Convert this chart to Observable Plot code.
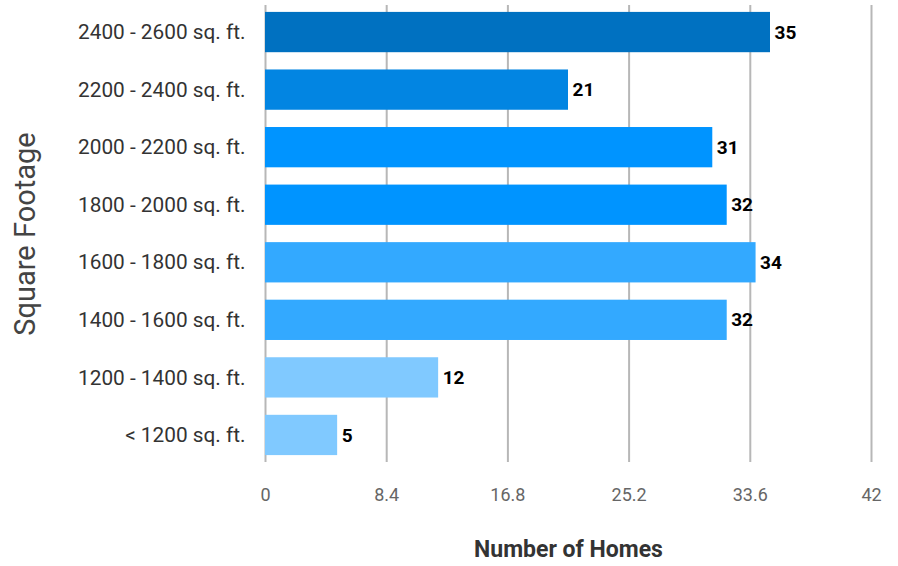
<!DOCTYPE html>
<html>
<head>
<meta charset="utf-8">
<script src="https://cdn.jsdelivr.net/npm/d3@7"></script>
<script src="https://cdn.jsdelivr.net/npm/@observablehq/plot@0.6"></script>
<style>
  html, body { margin: 0; padding: 0; background: #fff; }
  #chart svg { font-family: Roboto, "Noto Sans", sans-serif; display: block; }
</style>
</head>
<body>
<div id="chart"></div>
<script>
const categories = [
  "2400 - 2600 sq. ft.",
  "2200 - 2400 sq. ft.",
  "2000 - 2200 sq. ft.",
  "1800 - 2000 sq. ft.",
  "1600 - 1800 sq. ft.",
  "1400 - 1600 sq. ft.",
  "1200 - 1400 sq. ft.",
  "< 1200 sq. ft."
];
const homes = [35, 21, 31, 32, 34, 32, 12, 5];
const xTicks = [0, 8.4, 16.8, 25.2, 33.6, 42];
const barColors = ["#0071c1", "#0285e2", "#0094ff", "#0094ff", "#33a9ff", "#33a9ff", "#80c9ff", "#80c9ff"];

const data = categories.map((c, i) => ({category: c, value: homes[i], color: barColors[i]}));

const chart = Plot.plot({
  width: 898,
  height: 566,
  marginLeft: 265,
  marginRight: 27,
  marginTop: 5,
  marginBottom: 104,
  style: {fontFamily: "Roboto, 'Noto Sans', sans-serif", background: "#fff"},
  x: {domain: [0, 42]},
  y: {domain: categories, paddingInner: 0.3, paddingOuter: 0.12, round: false},
  marks: [
    Plot.gridX(xTicks, {stroke: "#b7b7b7", strokeOpacity: 1, strokeWidth: 2}),
    Plot.barX(data, {x: "value", y: "category", fill: "color"}),
    Plot.text(data, {x: "value", y: "category", text: d => String(d.value), textAnchor: "start", dx: 4, fontSize: 19, fontWeight: "bold", fill: "#000"}),
    Plot.axisX(xTicks, {tickSize: 0, tickPadding: 26, fontSize: 18, color: "#666", tickFormat: d => String(d), label: null}),
    Plot.axisY({tickSize: 0, tickPadding: 20, fontSize: 20.8, color: "#333", label: null}),
    Plot.text(["Number of Homes"], {frameAnchor: "bottom", dy: 94, fontSize: 23, fontWeight: "bold", fill: "#333"}),
    Plot.text(["Square Footage"], {frameAnchor: "left", textAnchor: "middle", lineAnchor: "middle", dx: -240, rotate: -90, fontSize: 29, fill: "#444"})
  ]
});
document.getElementById("chart").appendChild(chart);
</script>
</body>
</html>
